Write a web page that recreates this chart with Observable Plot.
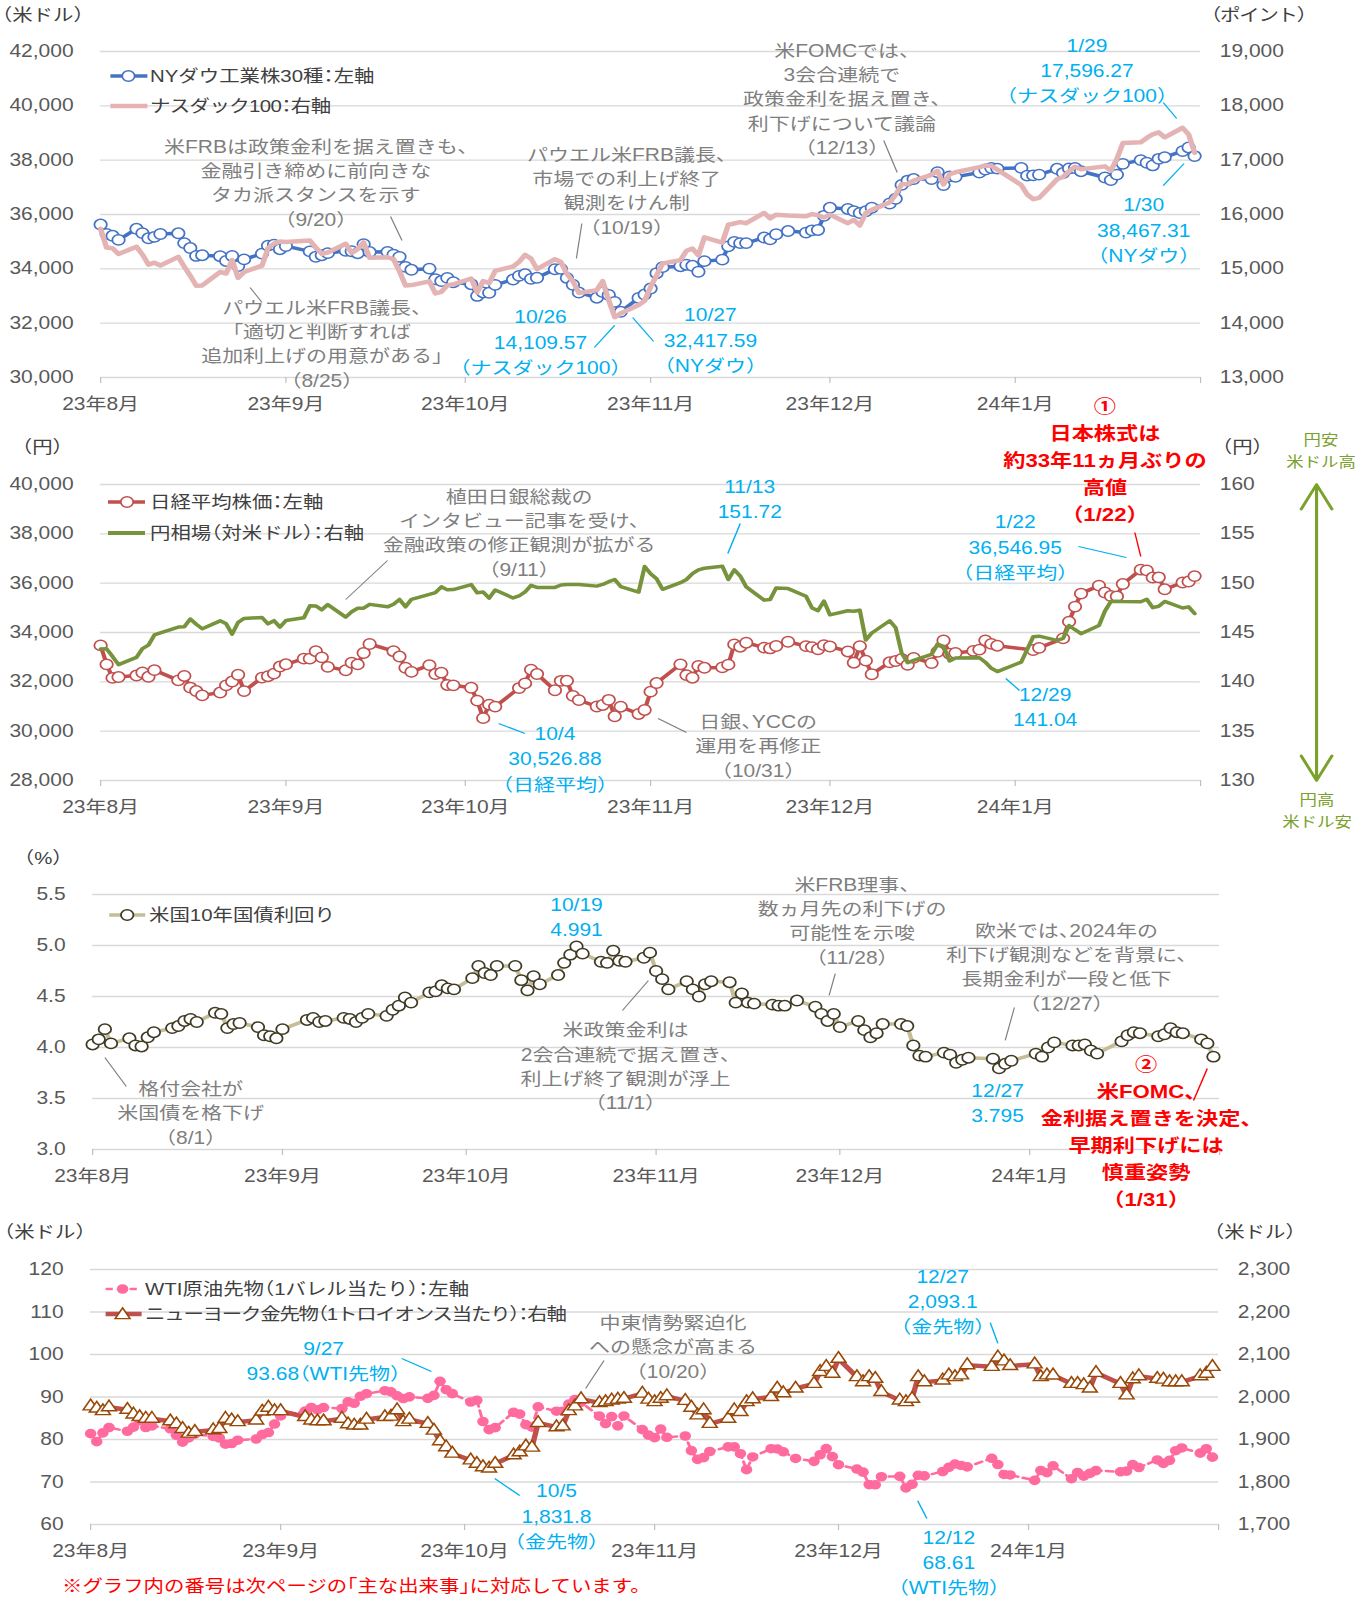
<!DOCTYPE html>
<html lang="ja">
<head>
<meta charset="utf-8">
<title>主要マーケット指標の推移</title>
<script src="https://cdn.jsdelivr.net/npm/d3@7"></script>
<script src="https://cdn.jsdelivr.net/npm/@observablehq/plot@0.6"></script>
<style>
html,body{margin:0;padding:0;background:#fff;}
#page{position:relative;width:1360px;height:1598px;overflow:hidden;background:#fff;}
#root{position:absolute;left:0;top:0;width:1133.333px;height:1598px;transform:scale(1.2,1);transform-origin:0 0;
  font-family:'Liberation Sans','Noto Sans CJK JP',sans-serif;font-feature-settings:"halt";}
#root svg text{font-feature-settings:"halt";}
.panel{position:absolute;left:0;width:1133.333px;}
.panel svg{position:absolute;left:0;top:0;overflow:visible;background:transparent;}
.lbl{position:absolute;white-space:nowrap;line-height:1;transform:translateY(-50%);font-size:17px;color:#404040;}
.lbl.c{transform:translate(-50%,-50%);text-align:center;}
.legend{position:absolute;white-space:nowrap;font-size:17px;color:#404040;line-height:1;transform:translateY(-50%);}
</style>
</head>
<body>
<div id="page"><div id="root"></div></div>
<script>
// ---------------- DATA ----------------
const monthTicks  = ["08-01","09-01","10-01","11-01","12-01","01-01","02-01"];
const monthLabels = ["23年8月","23年9月","23年10月","23年11月","23年12月","24年1月",""];

// US trading days (NYダウ, ナスダック100, 米10年債, WTI, 金)
const usDates = [
"08-01","08-02","08-03","08-04","08-07","08-08","08-09","08-10","08-11","08-14","08-15","08-16","08-17","08-18","08-21","08-22","08-23","08-24","08-25","08-28","08-29","08-30","08-31",
"09-01","09-05","09-06","09-07","09-08","09-11","09-12","09-13","09-14","09-15","09-18","09-19","09-20","09-21","09-22","09-25","09-26","09-27","09-28","09-29",
"10-02","10-03","10-04","10-05","10-06","10-09","10-10","10-11","10-12","10-13","10-16","10-17","10-18","10-19","10-20","10-23","10-24","10-25","10-26","10-27","10-30","10-31",
"11-01","11-02","11-03","11-06","11-07","11-08","11-09","11-10","11-13","11-14","11-15","11-16","11-17","11-20","11-21","11-22","11-24","11-27","11-28","11-29","11-30",
"12-01","12-04","12-05","12-06","12-07","12-08","12-11","12-12","12-13","12-14","12-15","12-18","12-19","12-20","12-21","12-22","12-26","12-27","12-28","12-29",
"01-02","01-03","01-04","01-05","01-08","01-09","01-10","01-11","01-12","01-16","01-17","01-18","01-19","01-22","01-23","01-24","01-25","01-26","01-29","01-30","01-31"];

const dow = [
35630.68,35282.52,35215.89,35065.62,35473.13,35314.49,35123.36,35176.15,35281.40,35307.63,34946.39,34765.74,34474.83,34500.66,34463.69,34288.83,34472.98,34099.42,34346.90,34559.98,34852.67,34890.24,34721.91,
34837.71,34641.97,34443.19,34500.73,34576.59,34663.72,34645.99,34575.53,34907.11,34618.24,34624.30,34517.73,34440.88,34070.42,33963.84,34006.88,33618.88,33550.27,33666.34,33507.50,
33433.35,33002.38,33129.55,33119.57,33407.58,33604.65,33739.30,33804.87,33631.14,33670.29,33984.54,33997.65,33665.08,33414.17,33127.28,32936.41,33141.38,33035.93,32784.30,32417.59,32928.96,33052.87,
33274.58,33839.08,34061.32,34095.86,34152.60,34112.27,33891.94,34283.10,34337.87,34827.70,34991.21,34945.47,34947.28,35151.04,35088.29,35273.03,35390.15,35333.47,35416.98,35430.42,35950.89,
36245.50,36204.44,36124.56,36054.43,36117.38,36247.87,36404.93,36577.94,37090.24,37248.35,37305.16,37306.02,37557.92,37082.00,37404.35,37385.97,37545.33,37656.52,37710.10,37689.54,
37715.04,37430.19,37440.34,37466.11,37683.01,37525.16,37695.73,37711.02,37592.98,37361.12,37266.67,37468.61,37863.80,38001.81,37905.45,37806.39,38049.13,38109.43,38333.45,38467.31,38150.30];

const nasdaq100 = [
15735,15391,15379,15274,15407,15262,15078,15113,15060,15219,15038,14871,14690,14694,14942,14914,15160,14834,14941,15059,15380,15463,15501,
15493,15520,15390,15278,15300,15461,15292,15363,15485,15202,15213,15178,14953,14695,14701,14770,14546,14578,14695,14715,
14822,14565,14776,14738,14963,15043,15128,15256,15188,14995,15177,15125,14909,14773,14556,14608,14772,14418,14109.57,14180,14335,14410,
14666,14877,15099,15161,15332,15373,15249,15580,15483,15812,15835,15860,15840,16028,15929,15997,15982,15967,16006,15987,15947,
15997,15840,15899,15798,16027,16085,16221,16366,16556,16560,16624,16730,16803,16553,16743,16777,16872,16898,16898,16826,
16543,16368,16283,16305,16649,16689,16796,16880,16833,16886,16808,17023,17314,17329,17409,17476,17513,17421,17596.27,17476,17137];

const ust10y = [
4.03,4.08,4.18,4.04,4.09,4.02,4.01,4.10,4.15,4.19,4.21,4.26,4.28,4.25,4.34,4.33,4.19,4.23,4.24,4.20,4.12,4.11,4.09,
4.18,4.27,4.29,4.25,4.26,4.29,4.28,4.25,4.29,4.33,4.31,4.37,4.41,4.49,4.44,4.54,4.55,4.61,4.58,4.57,
4.68,4.80,4.73,4.71,4.80,4.80,4.66,4.56,4.70,4.62,4.71,4.83,4.91,4.991,4.92,4.84,4.83,4.95,4.85,4.84,4.88,4.93,
4.75,4.67,4.57,4.65,4.57,4.50,4.62,4.65,4.64,4.44,4.53,4.44,4.43,4.42,4.41,4.41,4.46,4.40,4.33,4.26,4.33,
4.20,4.26,4.17,4.10,4.14,4.23,4.23,4.21,4.02,3.92,3.91,3.95,3.93,3.85,3.88,3.90,3.89,3.795,3.84,3.87,
3.94,3.91,4.00,4.05,4.02,4.02,4.03,3.97,3.94,4.06,4.12,4.15,4.14,4.11,4.13,4.19,4.15,4.14,4.08,4.04,3.91];

const wti = [
81.37,79.49,81.55,82.82,81.94,82.92,84.40,82.82,83.19,82.51,80.99,79.38,80.39,81.25,80.72,80.35,78.89,79.05,79.83,80.10,81.16,81.63,83.63,
85.55,86.69,87.54,87.00,87.51,87.29,88.84,88.52,90.16,90.77,91.48,91.20,90.28,89.63,90.03,89.68,90.39,93.68,91.71,90.79,
88.82,89.23,84.22,82.31,82.79,86.38,85.97,83.49,82.91,87.69,86.66,86.66,88.32,89.37,88.75,85.49,83.74,85.39,83.21,85.54,82.31,81.02,
80.44,82.46,80.51,80.82,77.37,75.33,75.74,77.17,78.26,78.26,76.66,72.90,75.89,77.83,77.77,77.10,75.54,74.86,76.41,77.86,75.96,
74.07,73.04,72.32,69.38,69.34,71.23,71.32,68.61,69.47,71.58,71.43,72.47,73.44,74.22,73.89,73.56,75.57,74.11,71.77,71.65,
70.38,72.70,72.19,73.81,70.77,72.24,71.37,72.02,72.68,72.40,72.56,74.08,73.41,75.19,74.37,75.09,77.36,78.01,76.78,77.82,75.85];

const gold = [
1978,1973,1967,1976,1970,1959,1953,1949,1949,1943,1936,1925,1914,1918,1922,1925,1949,1945,1941,1945,1966,1975,1967,
1967,1953,1945,1943,1943,1949,1936,1933,1933,1947,1953,1954,1969,1941,1947,1937,1921,1896,1882,1867,
1851,1843,1835,1831.8,1843,1863,1870,1884,1881,1939,1929,1931,1967,1978,1995,1986,1988,1992,1994,1996,2008,1994,
1988,1996,2002,1991,1975,1957,1969,1937,1949,1969,1965,1988,1995,2000,2020,2009,2020,2031,2059,2071,2055,
2090,2047,2035,2047,2043,2012,1992,1988,1996,2047,2035,2039,2051,2047,2051,2075,2071,2093.1,2084,2073,
2077,2047,2051,2051,2031,2031,2028,2020,2057,2031,2004,2042,2049,2043,2041,2035,2035,2035,2049,2055,2071];

// Tokyo trading days (日経平均)
const jpDates = [
"08-01","08-02","08-03","08-04","08-07","08-08","08-09","08-10","08-14","08-15","08-16","08-17","08-18","08-21","08-22","08-23","08-24","08-25","08-28","08-29","08-30","08-31",
"09-01","09-04","09-05","09-06","09-07","09-08","09-11","09-12","09-13","09-14","09-15","09-19","09-20","09-21","09-22","09-25","09-26","09-27","09-28","09-29",
"10-02","10-03","10-04","10-05","10-06","10-10","10-11","10-12","10-13","10-16","10-17","10-18","10-19","10-20","10-23","10-24","10-25","10-26","10-27","10-30","10-31",
"11-01","11-02","11-06","11-07","11-08","11-09","11-10","11-13","11-14","11-15","11-16","11-17","11-20","11-21","11-22","11-24","11-27","11-28","11-29","11-30",
"12-01","12-04","12-05","12-06","12-07","12-08","12-11","12-12","12-13","12-14","12-15","12-18","12-19","12-20","12-21","12-22","12-25","12-26","12-27","12-28","12-29",
"01-04","01-05","01-09","01-10","01-11","01-12","01-15","01-16","01-17","01-18","01-19","01-22","01-23","01-24","01-25","01-26","01-29","01-30","01-31"];

const nikkei = [
33476.58,32707.69,32159.28,32192.75,32254.56,32377.29,32204.33,32473.65,32059.91,32238.89,31766.82,31626.00,31450.76,31565.64,31856.71,32010.26,32287.21,31624.28,32169.99,32226.97,32333.46,32619.34,
32710.62,32939.18,32939.89,33241.02,32991.08,32606.84,32467.76,32776.37,32706.52,33168.10,33533.09,33242.59,33023.78,32571.03,32402.41,32678.62,32315.05,32371.90,31872.52,31857.62,
31759.88,31237.94,30526.88,31075.36,30994.67,31746.53,31936.51,32494.66,32315.99,31659.03,32040.29,32042.25,31430.62,31259.36,30999.55,31062.35,31269.92,30601.78,30991.69,30696.96,30858.85,
31601.65,31949.89,32708.48,32271.82,32166.48,32646.46,32568.11,32585.11,32695.93,33519.70,33424.41,33585.20,33388.03,33354.14,33451.83,33625.53,33447.67,33408.39,33321.22,33486.89,
33431.51,33231.27,32775.82,33445.90,32858.31,32307.86,32791.80,32843.04,32926.35,32686.25,32970.55,32758.98,33219.39,33675.94,33140.47,33169.05,33254.03,33305.85,33681.24,33539.62,33464.17,
33288.29,33377.42,33763.18,34441.72,35049.86,35577.11,35901.79,35619.18,35477.75,35466.17,35963.27,36546.95,36517.57,36226.48,36236.47,35751.07,36026.94,36065.86,36286.71];

// FX days (円相場)
const fxDates = [
"08-01","08-02","08-03","08-04","08-07","08-08","08-09","08-10","08-11","08-14","08-15","08-16","08-17","08-18","08-21","08-22","08-23","08-24","08-25","08-28","08-29","08-30","08-31",
"09-01","09-04","09-05","09-06","09-07","09-08","09-11","09-12","09-13","09-14","09-15","09-18","09-19","09-20","09-21","09-22","09-25","09-26","09-27","09-28","09-29",
"10-02","10-03","10-04","10-05","10-06","10-09","10-10","10-11","10-12","10-13","10-16","10-17","10-18","10-19","10-20","10-23","10-24","10-25","10-26","10-27","10-30","10-31",
"11-01","11-02","11-03","11-06","11-07","11-08","11-09","11-10","11-13","11-14","11-15","11-16","11-17","11-20","11-21","11-22","11-24","11-27","11-28","11-29","11-30",
"12-01","12-04","12-05","12-06","12-07","12-08","12-11","12-12","12-13","12-14","12-15","12-18","12-19","12-20","12-21","12-22","12-26","12-27","12-28","12-29",
"01-02","01-03","01-04","01-05","01-08","01-09","01-10","01-11","01-12","01-15","01-16","01-17","01-18","01-19","01-22","01-23","01-24","01-25","01-26","01-29","01-30","01-31"];

const usdjpy = [
143.32,143.34,142.56,141.74,142.48,143.37,143.72,144.75,144.97,145.55,145.59,146.36,145.84,145.38,146.18,145.89,144.83,146.02,146.42,146.52,145.88,146.20,145.54,
146.21,146.49,147.70,147.69,147.30,147.83,146.56,147.10,147.46,147.46,147.85,147.60,147.86,148.35,147.60,148.36,148.87,149.05,149.63,149.32,149.35,
149.86,149.02,149.10,148.49,149.31,148.50,148.70,149.11,149.78,149.57,149.57,149.81,149.86,149.86,149.86,149.70,149.87,150.15,150.37,149.65,149.10,151.68,
150.95,150.45,149.38,150.05,150.37,150.96,151.35,151.51,151.72,150.37,151.36,150.72,149.62,148.28,148.34,149.52,149.45,148.67,147.49,147.22,148.19,
146.79,147.20,147.16,147.26,144.23,144.95,146.19,145.48,142.90,141.93,142.17,142.78,143.82,143.60,142.12,142.42,142.44,141.99,141.37,141.04,
142.00,143.30,144.57,144.63,144.20,144.40,145.70,145.28,144.88,145.70,147.17,148.15,148.16,148.14,148.12,148.37,147.52,147.66,148.15,147.48,147.60,146.92];

// axis ticks
const dowTicks = [30000,32000,34000,36000,38000,40000,42000];
const ndxTicks = [13000,14000,15000,16000,17000,18000,19000];
const nkTicks  = [28000,30000,32000,34000,36000,38000,40000];
const fxTicks  = [130,135,140,145,150,155,160];
const yldTicks = [3.0,3.5,4.0,4.5,5.0,5.5];
const wtiTicks = [60,70,80,90,100,110,120];
const goldTicks= [1700,1800,1900,2000,2100,2200,2300];
const yenArrow = [160,130];

// annotations (x = date, y = value on the panel's left axis)
const notes1 = [
 {x:"09-06", y:37215, kind:"gray", text:"米FRBは政策金利を据え置きも、\n金融引き締めに前向きな\nタカ派スタンスを示す\n（9/20）"},
 {x:"09-07", y:31288, kind:"gray", text:"パウエル米FRB議長、\n「適切と判断すれば\n追加利上げの用意がある」\n（8/25）"},
 {x:"10-28", y:36920, kind:"gray", text:"パウエル米FRB議長、\n市場での利上げ終了\n観測をけん制\n（10/19）"},
 {x:"12-03", y:40307, kind:"gray", text:"米FOMCでは、\n3会合連続で\n政策金利を据え置き、\n利下げについて議論\n（12/13）"},
 {x:"01-13", y:41356, kind:"cyan", text:"1/29\n17,596.27\n（ナスダック100）"},
 {x:"01-22T12:00", y:35485, kind:"cyan", text:"1/30\n38,467.31\n（NYダウ）"},
 {x:"10-13T14:00", y:31362, kind:"cyan", text:"10/26\n14,109.57\n（ナスダック100）"},
 {x:"11-11", y:31435, kind:"cyan", text:"10/27\n32,417.59\n（NYダウ）"}];
const leaders1 = [
 {x1:"09-18T12:00", y1:35926, x2:"09-20T10:00", y2:35043, kind:"gray"},
 {x1:"08-26", y1:33313, x2:"08-28", y2:32761, kind:"gray"},
 {x1:"10-20T12:00", y1:35669, x2:"10-19T14:00", y2:34380, kind:"gray"},
 {x1:"12-10", y1:38724, x2:"12-12T06:00", y2:37546, kind:"gray"},
 {x1:"01-25T18:00", y1:40123, x2:"01-28", y2:39534, kind:"cyan"},
 {x1:"01-25T18:00", y1:37067, x2:"01-29T06:00", y2:37877, kind:"cyan"},
 {x1:"10-22T14:00", y1:31104, x2:"10-26", y2:31914, kind:"cyan"},
 {x1:"10-29", y1:32208, x2:"11-01T12:00", y2:31325, kind:"cyan"}];

const notes2 = [
 {x:"10-10", y:38095, kind:"gray", text:"植田日銀総裁の\nインタビュー記事を受け、\n金融政策の修正観測が拡がる\n（9/11）"},
 {x:"10-16", y:28933, kind:"cyan", text:"10/4\n30,526.88\n（日経平均）"},
 {x:"11-19", y:29460, kind:"gray", text:"日銀、YCCの\n運用を再修正\n（10/31）"},
 {x:"11-17T14:00", y:39473, kind:"cyan", text:"11/13\n151.72"},
 {x:"01-01", y:37527, kind:"cyan", text:"1/22\n36,546.95\n（日経平均）"},
 {x:"01-06", y:31041, kind:"cyan", text:"12/29\n141.04"},
 {x:"01-16", y:41074, kind:"red", text:"①\n日本株式は\n約33年11ヵ月ぶりの\n高値\n（1/22）"}];
const leaders2 = [
 {x1:"09-18", y1:36919, x2:"09-11", y2:35338, kind:"gray"},
 {x1:"10-06T14:00", y1:30311, x2:"10-11", y2:29905, kind:"cyan"},
 {x1:"11-02T06:00", y1:30514, x2:"11-07", y2:29946, kind:"gray"},
 {x1:"11-16", y1:38419, x2:"11-13T22:00", y2:37203, kind:"cyan"},
 {x1:"01-11T14:00", y1:37487, x2:"01-19T14:00", y2:37041, kind:"cyan"},
 {x1:"12-30T10:00", y1:32135, x2:"01-01T17:00", y2:31649, kind:"cyan"},
 {x1:"01-21", y1:38054, x2:"01-22", y2:37081, kind:"red"}];

const notes3 = [
 {x:"08-17", y:3.373, kind:"gray", text:"格付会社が\n米国債を格下げ\n（8/1）"},
 {x:"10-19", y:5.294, kind:"cyan", text:"10/19\n4.991"},
 {x:"10-27", y:3.828, kind:"gray", text:"米政策金利は\n2会合連続で据え置き、\n利上げ終了観測が浮上\n（11/1）"},
 {x:"12-03", y:5.255, kind:"gray", text:"米FRB理事、\n数ヵ月先の利下げの\n可能性を示唆\n（11/28）"},
 {x:"01-07", y:4.804, kind:"gray", text:"欧米では、2024年の\n利下げ観測などを背景に、\n長期金利が一段と低下\n（12/27）"},
 {x:"12-26T18:00", y:3.466, kind:"cyan", text:"12/27\n3.795"},
 {x:"01-20", y:3.191, kind:"red", text:"②\n米FOMC、\n金利据え置きを決定、\n早期利下げには\n慎重姿勢\n（1/31）"}];
const leaders3 = [
 {x1:"08-03", y1:3.902, x2:"08-06T12:00", y2:3.618, kind:"gray"},
 {x1:"10-30T18:00", y1:4.657, x2:"10-26T12:00", y2:4.363, kind:"gray"},
 {x1:"11-30T06:00", y1:4.725, x2:"11-29T06:00", y2:4.510, kind:"gray"},
 {x1:"12-29T12:00", y1:4.392, x2:"12-28", y2:4.069, kind:"gray"},
 {x1:"01-30", y1:3.794, x2:"01-27T18:00", y2:3.480, kind:"red"}];

const notes4 = [
 {x:"11-04", y:102.1, kind:"gray", text:"中東情勢緊迫化\nへの懸念が高まる\n（10/20）"},
 {x:"09-08", y:98.8, kind:"cyan", text:"9/27\n93.68（WTI先物）"},
 {x:"10-16", y:62.35, kind:"cyan", text:"10/5\n1,831.8\n（金先物）"},
 {x:"12-18", y:112.9, kind:"cyan", text:"12/27\n2,093.1\n（金先物）"},
 {x:"12-19", y:51.3, kind:"cyan", text:"12/12\n68.61\n（WTI先物）"}];
const leaders4 = [
 {x1:"10-23T18:00", y1:98.6, x2:"10-20T18:00", y2:92.0, kind:"gray"},
 {x1:"09-20T18:00", y1:99.06, x2:"09-25T14:00", y2:96.0, kind:"cyan"},
 {x1:"10-05T22:00", y1:70.8, x2:"10-10", y2:66.8, kind:"cyan"},
 {x1:"12-25T18:00", y1:107.5, x2:"12-27", y2:102.6, kind:"cyan"},
 {x1:"12-13T22:00", y1:65.6, x2:"12-15T10:00", y2:61.4, kind:"cyan"}];

// ---------------- HELPERS ----------------
const S = 1.2;                 // the reference is stretched horizontally
const W = 1360 / S;
const FONT = "'Liberation Sans','Noto Sans CJK JP',sans-serif";
const C = {gray:"#7f7f7f", cyan:"#00b0f0", red:"#ff0000", tick:"#595959", grid:"#d9d9d9"};

function toDate(md) {
  const year = +md.slice(0, 2) < 8 ? 2024 : 2023;
  return new Date(`${year}-${md}` + (md.includes("T") ? ":00Z" : "T00:00:00Z"));
}
function rows(dates, vals, name) {
  if (dates.length !== vals.length) throw new Error(name + " length " + dates.length + " vs " + vals.length);
  return dates.map((d, i) => ({date: toDate(d), value: vals[i]}));
}
const xDomain = [toDate("08-01"), toDate("02-01")];
const tickDates = monthTicks.map(toDate);
const labelOf = new Map(tickDates.map((d, i) => [+d, monthLabels[i]]));
const fmtComma = d3.format(",");

const dowRows = rows(usDates, dow, "dow");
const ndxRows = rows(usDates, nasdaq100, "ndx");
const yldRows = rows(usDates, ust10y, "ust");
const wtiRows = rows(usDates, wti, "wti");
const goldRows = rows(usDates, gold, "gold");
const nkRows = rows(jpDates, nikkei, "nikkei");
const fxRows = rows(fxDates, usdjpy, "usdjpy");

const prep = arr => arr.map(d => ({...d, xd: toDate(d.x)}));
const prepL = arr => arr.map(d => ({...d, d1: toDate(d.x1), d2: toDate(d.x2)}));

function annotationMarks(notes, leaders) {
  const n = prep(notes), l = prepL(leaders);
  return [
    Plot.link(l.filter(d => d.kind === "gray"), {x1:"d1", y1:"y1", x2:"d2", y2:"y2", stroke:C.gray, strokeWidth:1}),
    Plot.link(l.filter(d => d.kind === "cyan"), {x1:"d1", y1:"y1", x2:"d2", y2:"y2", stroke:C.cyan, strokeWidth:1.2}),
    Plot.link(l.filter(d => d.kind === "red"), {x1:"d1", y1:"y1", x2:"d2", y2:"y2", stroke:C.red, strokeWidth:1.2}),
    Plot.text(n.filter(d => d.kind === "gray"), {x:"xd", y:"y", text:"text", fill:C.gray, fontSize:17.5, lineHeight:1.39}),
    Plot.text(n.filter(d => d.kind === "cyan"), {x:"xd", y:"y", text:"text", fill:C.cyan, fontSize:17.5, lineHeight:1.43}),
    Plot.text(n.filter(d => d.kind === "red"), {x:"xd", y:"y", text:"text", fill:C.red, fontSize:18.5, fontWeight:"bold", lineHeight:1.46})
  ];
}

function frame(o) {
  return {
    width: W, height: o.height,
    marginTop: o.mt, marginBottom: o.mb, marginLeft: o.ml, marginRight: o.mr,
    x: {type: "utc", domain: xDomain, axis: null},
    y: {domain: o.yDomain, axis: null},
    style: {overflow: "visible", background: "transparent", fontFamily: FONT, color: C.tick},
    marks: o.marks
  };
}
function xAxis() {
  return Plot.axisX(tickDates, {tickSize: 6, tickPadding: 14, tickFormat: d => labelOf.get(+d) ?? "",
    fontSize: 17.5, stroke: "#bfbfbf", fill: C.tick, label: null});
}
function leftAxis(ticks, fmt) {
  return [
    Plot.gridY(ticks, {stroke: C.grid, strokeOpacity: 1, strokeWidth: 1.3}),
    Plot.axisY(ticks, {tickSize: 0, tickPadding: 22.5, tickFormat: fmt, fontSize: 17.5, fill: C.tick, label: null})
  ];
}
function rightAxis(ticks, fmt) {
  return Plot.axisY(ticks, {anchor: "right", tickSize: 0, tickPadding: 16, tickFormat: fmt, fontSize: 17.5, fill: C.tick, label: null});
}

const root = document.getElementById("root");
function panel(top, plots) {
  const div = document.createElement("div");
  div.className = "panel";
  div.style.top = top + "px";
  for (const p of plots) div.appendChild(p);
  root.appendChild(div);
}
function label(text, x, y, opts = {}) {
  const d = document.createElement("div");
  d.className = "lbl" + (opts.center ? " c" : "");
  d.style.left = x + "px"; d.style.top = y + "px";
  if (opts.color) d.style.color = opts.color;
  if (opts.size) d.style.fontSize = opts.size + "px";
  if (opts.spacing) d.style.letterSpacing = opts.spacing + "px";
  d.textContent = text;
  root.appendChild(d);
}
function legendRow(y, x1, x2, xm, xt, swatch, text, spacing = 0) {
  const w = x2 - x1;
  root.insertAdjacentHTML("beforeend",
    `<svg width="${w}" height="16" style="position:absolute;left:${x1}px;top:${y - 8}px;overflow:visible">${swatch(w, xm - x1)}</svg>`);
  const d = document.createElement("div");
  d.className = "legend";
  d.style.left = xt + "px"; d.style.top = y + "px";
  if (spacing) d.style.letterSpacing = spacing + "px";
  d.textContent = text;
  root.appendChild(d);
}
const swLineCircle = (col, mk, lw = 3.5) => (w, m) =>
  `<line x1="0" y1="8" x2="${w}" y2="8" stroke="${col}" stroke-width="${lw}"/><circle cx="${m}" cy="8" r="5.2" fill="#fff" stroke="${mk}" stroke-width="1.5"/>`;
const swLine = (col, lw) => (w) => `<line x1="0" y1="8" x2="${w}" y2="8" stroke="${col}" stroke-width="${lw}"/>`;
const swDashDot = (col) => (w, m) =>
  `<line x1="0" y1="8" x2="${w}" y2="8" stroke="${col}" stroke-width="2.5" stroke-dasharray="6,4"/><circle cx="${m}" cy="8" r="4.8" fill="${col}"/>`;
const triPath = d3.symbol(d3.symbolTriangle, Math.PI * 4.6 * 4.6)();
const swLineTri = (col, mk) => (w, m) =>
  `<line x1="0" y1="8" x2="${w}" y2="8" stroke="${col}" stroke-width="4.5"/><path transform="translate(${m},9)" d="${triPath}" fill="#fff" stroke="${mk}" stroke-width="1.4"/>`;

// ---------------- PANEL 1 : NYダウ / ナスダック100 ----------------
const P1 = {height: 425, mt: 51, mb: 48, ml: 100 / S, mr: W - 1200 / S};
panel(0, [
  Plot.plot(frame({...P1, yDomain: [30000, 42000], marks: [
    ...leftAxis(dowTicks, fmtComma), xAxis(),
    Plot.line(dowRows, {x: "date", y: "value", stroke: "#4472c4", strokeWidth: 3.5}),
    Plot.dot(dowRows, {x: "date", y: "value", r: 5.2, fill: "#fff", stroke: "#4472c4", strokeWidth: 1.5}),
    ...annotationMarks(notes1, leaders1)
  ]})),
  Plot.plot(frame({...P1, yDomain: [13000, 19000], marks: [
    rightAxis(ndxTicks, fmtComma),
    Plot.line(ndxRows, {x: "date", y: "value", stroke: "#e4b4b4", strokeWidth: 4.5})
  ]}))
]);

// ---------------- PANEL 2 : 日経平均 / 円相場 ----------------
const P2 = {height: 398, mt: 54, mb: 48, ml: 100 / S, mr: W - 1200 / S};
panel(430, [
  Plot.plot(frame({...P2, yDomain: [28000, 40000], marks: [
    ...leftAxis(nkTicks, fmtComma), xAxis(),
    Plot.line(nkRows, {x: "date", y: "value", stroke: "#c0504d", strokeWidth: 3.5}),
    Plot.dot(nkRows, {x: "date", y: "value", r: 5.2, fill: "#fff", stroke: "#c0504d", strokeWidth: 1.5}),
    ...annotationMarks(notes2, leaders2)
  ]})),
  Plot.plot(frame({...P2, yDomain: [130, 160], marks: [
    rightAxis(fxTicks, d => String(d)),
    Plot.line(fxRows, {x: "date", y: "value", stroke: "#77933c", strokeWidth: 3.5}),
    Plot.arrow(yenArrow.map(v => ({x: xDomain[1], from: 145, to: v})),
      {x1: "x", x2: "x", y1: "from", y2: "to", dx: (1316 - 1200) / S, stroke: "#7aa12c", strokeWidth: 2.6, headLength: 16, headAngle: 55})
  ]}))
]);

// ---------------- PANEL 3 : 米国10年国債利回り ----------------
const P3 = {height: 367, mt: 64, mb: 48, ml: 92 / S, mr: W - 1219 / S};
panel(830, [
  Plot.plot(frame({...P3, yDomain: [3.0, 5.5], marks: [
    ...leftAxis(yldTicks, d3.format(".1f")), xAxis(),
    Plot.line(yldRows, {x: "date", y: "value", stroke: "#c4bd97", strokeWidth: 3.5}),
    Plot.dot(yldRows, {x: "date", y: "value", r: 5.2, fill: "#fff", stroke: "#3f3a23", strokeWidth: 1.5}),
    ...annotationMarks(notes3, leaders3)
  ]}))
]);

// ---------------- PANEL 4 : WTI / 金 ----------------
const P4 = {height: 372, mt: 69, mb: 48, ml: 90 / S, mr: W - 1218 / S};
panel(1200, [
  Plot.plot(frame({...P4, yDomain: [60, 120], marks: [
    ...leftAxis(wtiTicks, d => String(d)), xAxis(),
    Plot.line(wtiRows, {x: "date", y: "value", stroke: "#ff6b9e", strokeWidth: 2.5, strokeDasharray: "6,4"}),
    Plot.dot(wtiRows, {x: "date", y: "value", r: 4.8, fill: "#ff6b9e"}),
    ...annotationMarks(notes4, leaders4)
  ]})),
  Plot.plot(frame({...P4, yDomain: [1700, 2300], marks: [
    rightAxis(goldTicks, fmtComma),
    Plot.line(goldRows, {x: "date", y: "value", stroke: "#c0504d", strokeWidth: 4.5}),
    Plot.dot(goldRows, {x: "date", y: "value", symbol: "triangle", r: 4.6, fill: "#fff", stroke: "#984807", strokeWidth: 1.4})
  ]}))
]);

// ---------------- LEGENDS ----------------
legendRow(76, 110 / S, 147 / S, 128 / S, 150 / S, swLineCircle("#4472c4", "#4472c4"), "NYダウ工業株30種：左軸");
legendRow(106, 110 / S, 147 / S, 128 / S, 150 / S, swLine("#e4b4b4", 4.5), "ナスダック100：右軸", -0.5);
legendRow(502, 108 / S, 145 / S, 127 / S, 150 / S, swLineCircle("#c0504d", "#c0504d"), "日経平均株価：左軸");
legendRow(533, 108 / S, 145 / S, 127 / S, 150 / S, swLine("#77933c", 4), "円相場（対米ドル）：右軸");
legendRow(915, 109 / S, 145 / S, 127 / S, 149 / S, swLineCircle("#c4bd97", "#3f3a23"), "米国10年国債利回り");
legendRow(1289, 106 / S, 142 / S, 123 / S, 145 / S, swDashDot("#ff6b9e"), "WTI原油先物（1バレル当たり）：左軸");
legendRow(1314, 106 / S, 142 / S, 123 / S, 145 / S, swLineTri("#c0504d", "#984807"), "ニューヨーク金先物（1トロイオンス当たり）：右軸", -1);

// ---------------- UNIT LABELS & NOTES ----------------
label("（米ドル）", 2 / S, 15);
label("（ポイント）", 1211 / S, 15, {spacing: -1});
label("（円）", 22 / S, 447);
label("（円）", 1222 / S, 447);
label("円安", 1321 / S, 440, {center: true, color: "#7aa12c", size: 14.5});
label("米ドル高", 1321 / S, 462, {center: true, color: "#7aa12c", size: 14.5});
label("円高", 1317 / S, 800, {center: true, color: "#7aa12c", size: 14.5});
label("米ドル安", 1317 / S, 822, {center: true, color: "#7aa12c", size: 14.5});
label("（%）", 24 / S, 858);
label("（米ドル）", 4 / S, 1232);
label("（米ドル）", 1214 / S, 1232);
label("※グラフ内の番号は次ページの「主な出来事」に対応しています。", 62 / S, 1586, {color: "#ff0000", size: 17});
</script>
</body>
</html>
